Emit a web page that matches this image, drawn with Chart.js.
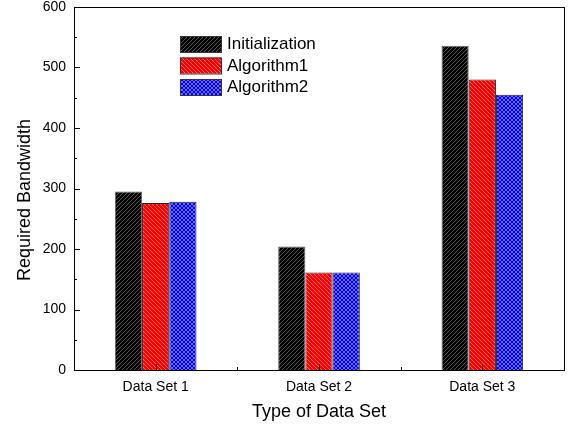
<!DOCTYPE html>
<html>
<head>
<meta charset="utf-8">
<script src="https://cdn.jsdelivr.net/npm/chart.js@4.4.0/dist/chart.umd.min.js"></script>
<style>
  html, body { margin: 0; padding: 0; background: #fff; }
  #wrap { width: 574px; height: 427px; }
</style>
</head>
<body>
<div id="wrap"><canvas id="myChart" width="574" height="427"></canvas></div>
<script>
// 데이터
const categories = ['Data Set 1', 'Data Set 2', 'Data Set 3'];
const initValues = [295, 204, 536];
const algo1Values = [276, 161, 480];
const algo2Values = [278, 161, 455];
const seriesNames = ['Initialization', 'Algorithm1', 'Algorithm2'];
const yTicks = [0, 100, 200, 300, 400, 500, 600];
const yTitle = 'Required Bandwidth';

// 빗금 패턴 만들기 (4px 간격)
function makePattern(base, line, kind) {
  const n = 4;
  const c = document.createElement('canvas');
  c.width = n; c.height = n;
  const g = c.getContext('2d');
  g.fillStyle = base;
  g.fillRect(0, 0, n, n);
  g.strokeStyle = line;
  g.lineWidth = 1;
  g.beginPath();
  if (kind === 'fwd' || kind === 'cross') {
    g.moveTo(0, n); g.lineTo(n, 0);
    g.moveTo(-n, n); g.lineTo(n, -n);
    g.moveTo(0, 2 * n); g.lineTo(2 * n, 0);
  }
  if (kind === 'back' || kind === 'cross') {
    g.moveTo(0, 0); g.lineTo(n, n);
    g.moveTo(-n, 0); g.lineTo(n, 2 * n);
    g.moveTo(0, -n); g.lineTo(2 * n, n);
  }
  g.stroke();
  return g.createPattern(c, 'repeat');
}

const ctx = document.getElementById('myChart').getContext('2d');
const blackPat = makePattern('#000000', '#555555', 'fwd');
const redPat = makePattern('#ff0000', '#ff6a6a', 'back');
const bluePat = makePattern('#0000ff', '#6a6aff', 'cross');

const fontFam = '"Liberation Sans", Arial, sans-serif';

// 테두리, 안쪽 눈금, 범례, y축 제목 그리기
const framePlugin = {
  id: 'frame',
  afterDraw: (chart) => {
    const c = chart.ctx;
    const a = chart.chartArea;
    const xs = chart.scales.x;
    const ys = chart.scales.y;
    c.save();
    c.strokeStyle = '#000';
    c.lineWidth = 1;
    c.strokeRect(Math.round(a.left) + 0.5, Math.round(a.top) + 0.5,
      Math.round(a.right - a.left), Math.round(a.bottom - a.top));
    c.beginPath();
    // y축 눈금 (안쪽)
    for (let v = 0; v <= 600; v += 50) {
      const y = Math.round(ys.getPixelForValue(v)) + 0.5;
      const len = v % 100 === 0 ? 6 : 3;
      c.moveTo(a.left, y); c.lineTo(a.left + len, y);
    }
    // x축 눈금 (안쪽)
    for (let i = 0; i < categories.length; i++) {
      const x = Math.round(xs.getPixelForValue(i)) + 0.5;
      c.moveTo(x, a.bottom); c.lineTo(x, a.bottom - 6);
      if (i > 0) {
        const xm = Math.round((xs.getPixelForValue(i) + xs.getPixelForValue(i - 1)) / 2) + 0.5;
        c.moveTo(xm, a.bottom); c.lineTo(xm, a.bottom - 3);
      }
    }
    c.stroke();

    // 범례
    const lx = 180, ly = 36, gap = 21.5;
    c.font = '17px ' + fontFam;
    c.textBaseline = 'middle';
    chart.data.datasets.forEach((ds, i) => {
      const y = ly + i * gap;
      c.fillStyle = ds.backgroundColor;
      c.fillRect(lx, y, 41, 16);
      c.strokeStyle = '#333';
      c.strokeRect(lx + 0.5, y + 0.5, 41, 16);
      c.fillStyle = '#000';
      c.fillText(ds.label, lx + 47, y + 8.5);
    });

    // y축 제목 (원본처럼 조금 아래쪽)
    c.translate(25, 200);
    c.rotate(-Math.PI / 2);
    c.font = '18px ' + fontFam;
    c.textAlign = 'center';
    c.fillStyle = '#000';
    c.fillText(yTitle, 0, 0);
    c.restore();
  }
};

new Chart(ctx, {
  type: 'bar',
  data: {
    labels: categories,
    datasets: [
      { label: seriesNames[0], data: initValues, backgroundColor: blackPat, borderColor: '#666', borderWidth: 1 },
      { label: seriesNames[1], data: algo1Values, backgroundColor: redPat, borderColor: '#222', borderWidth: 1 },
      { label: seriesNames[2], data: algo2Values, backgroundColor: bluePat, borderColor: '#222', borderWidth: 1 },
    ],
  },
  options: {
    responsive: false,
    animation: false,
    layout: { padding: { top: 7, right: 10, left: 0, bottom: 0 } },
    datasets: { bar: { barPercentage: 1, categoryPercentage: 0.5 } },
    plugins: {
      legend: { display: false },
      tooltip: { enabled: false },
    },
    scales: {
      x: {
        grid: { display: false, drawTicks: false },
        border: { color: '#000' },
        ticks: { color: '#000', font: { family: fontFam, size: 14 }, padding: 9 },
        title: { display: true, text: 'Type of Data Set', color: '#000', font: { family: fontFam, size: 18 }, padding: { top: 7 } },
        afterFit: (s) => { s.height = 57; s.paddingLeft = 0; s.paddingRight = 0; },
      },
      y: {
        min: 0,
        max: 600,
        afterBuildTicks: (s) => { s.ticks = yTicks.map((v) => ({ value: v })); },
        grid: { display: false, drawTicks: false },
        border: { color: '#000' },
        ticks: { color: '#000', font: { family: fontFam, size: 14 }, padding: 8 },
        afterFit: (s) => { s.width = 74; s.paddingTop = 0; s.paddingBottom = 0; },
      },
    },
  },
  plugins: [framePlugin],
});
</script>
</body>
</html>
